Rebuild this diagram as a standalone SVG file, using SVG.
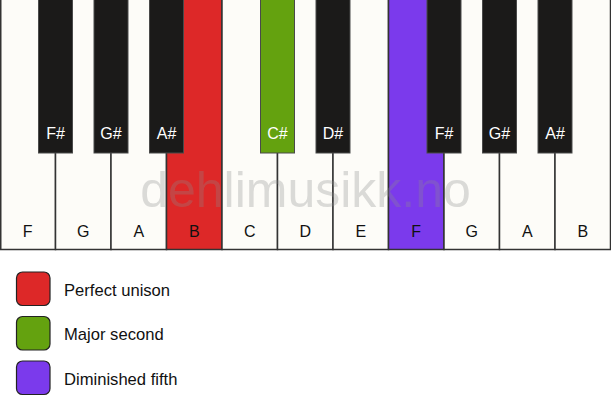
<svg xmlns="http://www.w3.org/2000/svg" width="611" height="417" viewBox="0 0 611 417">
<style>
.w{fill:#fdfcf8;stroke:#333;stroke-width:1.5}
.b{fill:#1b1a19;stroke:#4a4a4a;stroke-width:1}
.red{fill:#dd2828}
.grn{fill:#64a20f}
.pur{fill:#7b3aec}
.lw{font-family:"Liberation Sans",Arial,sans-serif;font-size:16px;fill:#111;text-anchor:middle}
.lb{font-family:"Liberation Sans",Arial,sans-serif;font-size:16px;fill:#fff;text-anchor:middle}
.lg{font-family:"Liberation Sans",Arial,sans-serif;font-size:16.6px;fill:#111}
.sq{stroke:#222;stroke-width:1.2}
</style>
<rect width="611" height="417" fill="#ffffff"/>
<g id="white-keys">
<g id="key-F1"><rect class="w" x="0.75" y="-1" width="54.75" height="250.5"/><text class="lw" x="27.75" y="237">F</text></g>
<g id="key-G1"><rect class="w" x="55.5" y="-1" width="55.5" height="250.5"/><text class="lw" x="83.25" y="237">G</text></g>
<g id="key-A1"><rect class="w" x="111" y="-1" width="55.5" height="250.5"/><text class="lw" x="138.75" y="237">A</text></g>
<g id="key-B1"><rect class="w red" x="166.5" y="-1" width="55.5" height="250.5"/><text class="lw" x="194.25" y="237">B</text></g>
<g id="key-C"><rect class="w" x="222" y="-1" width="55.5" height="250.5"/><text class="lw" x="249.75" y="237">C</text></g>
<g id="key-D"><rect class="w" x="277.5" y="-1" width="55.5" height="250.5"/><text class="lw" x="305.25" y="237">D</text></g>
<g id="key-E"><rect class="w" x="333" y="-1" width="55.5" height="250.5"/><text class="lw" x="360.75" y="237">E</text></g>
<g id="key-F2"><rect class="w pur" x="388.5" y="-1" width="55.5" height="250.5"/><text class="lw" x="416.25" y="237">F</text></g>
<g id="key-G2"><rect class="w" x="444" y="-1" width="55.5" height="250.5"/><text class="lw" x="471.75" y="237">G</text></g>
<g id="key-A2"><rect class="w" x="499.5" y="-1" width="55.5" height="250.5"/><text class="lw" x="527.25" y="237">A</text></g>
<g id="key-B2"><rect class="w" x="555" y="-1" width="55.5" height="250.5"/><text class="lw" x="582.75" y="237">B</text></g>
</g>
<text id="watermark" x="305.5" y="207" font-family="'Liberation Sans',Arial,sans-serif" font-size="50" fill="#8a8a8a" fill-opacity="0.3" text-anchor="middle">dehlimusikk.no</text>
<g id="black-keys">
<g id="key-Fs1"><rect class="b" x="38.5" y="-1" width="34" height="154"/><text class="lb" x="55.5" y="139">F#</text></g>
<g id="key-Gs1"><rect class="b" x="94" y="-1" width="34" height="154"/><text class="lb" x="111" y="139">G#</text></g>
<g id="key-As1"><rect class="b" x="149.5" y="-1" width="34" height="154"/><text class="lb" x="166.5" y="139">A#</text></g>
<g id="key-Cs"><rect class="b grn" x="260.5" y="-1" width="34" height="154" stroke="#333"/><text class="lb" x="277.5" y="139">C#</text></g>
<g id="key-Ds"><rect class="b" x="316" y="-1" width="34" height="154"/><text class="lb" x="333" y="139">D#</text></g>
<g id="key-Fs2"><rect class="b" x="427" y="-1" width="34" height="154"/><text class="lb" x="444" y="139">F#</text></g>
<g id="key-Gs2"><rect class="b" x="482.5" y="-1" width="34" height="154"/><text class="lb" x="499.5" y="139">G#</text></g>
<g id="key-As2"><rect class="b" x="538" y="-1" width="34" height="154"/><text class="lb" x="555" y="139">A#</text></g>
</g>
<g id="legend">
<g id="legend-unison"><rect class="sq red" x="16.5" y="272" width="33.5" height="33.5" rx="6"/><text class="lg" x="64" y="295.5">Perfect unison</text></g>
<g id="legend-second"><rect class="sq grn" x="16.5" y="316.5" width="33.5" height="33.5" rx="6"/><text class="lg" x="64" y="340">Major second</text></g>
<g id="legend-fifth"><rect class="sq pur" x="16.5" y="361" width="33.5" height="33.5" rx="6"/><text class="lg" x="64" y="384.5">Diminished fifth</text></g>
</g>
</svg>
